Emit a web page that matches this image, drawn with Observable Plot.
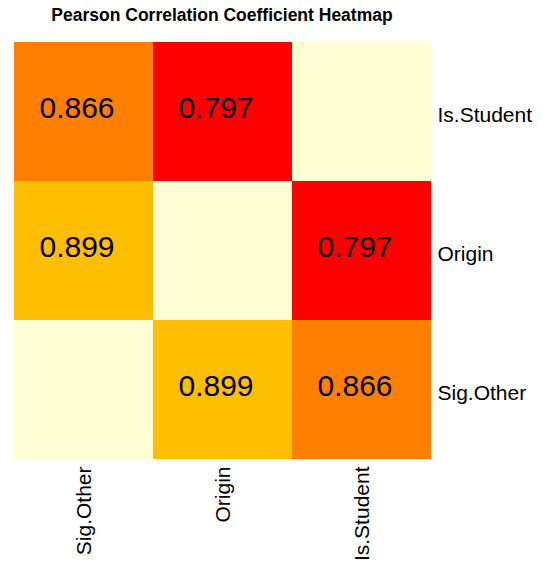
<!DOCTYPE html>
<html>
<head>
<meta charset="utf-8">
<script src="https://cdn.jsdelivr.net/npm/d3@7"></script>
<script src="https://cdn.jsdelivr.net/npm/@observablehq/plot@0.6"></script>
<style>
  body { margin: 0; background: #fff; font-family: "Liberation Sans", Arial, sans-serif; }
  #title { width: 444px; height: 30px; line-height: 31px; text-align: center; font-weight: bold; font-size: 17.5px; color: #000; white-space: nowrap; }
</style>
</head>
<body>
<div id="title">Pearson Correlation Coefficient Heatmap</div>
<div id="chart"></div>
<script>
const colVars = ["Sig.Other", "Origin", "Is.Student"];
const rowVars = ["Is.Student", "Origin", "Sig.Other"];
const values = [
  [0.866, 0.797, 1],
  [0.899, 1, 0.797],
  [1, 0.899, 0.866]
];
const colorLevels = [0.797, 0.866, 0.899, 1];
const colorRange = ["#FF0000", "#FF8000", "#FFBF00", "#FFFFD5"];

const cells = [];
rowVars.forEach((r, i) => colVars.forEach((c, j) => {
  const v = values[i][j];
  cells.push({row: r, col: c, value: v, label: v === 1 ? "" : v.toFixed(3)});
}));

const chart = Plot.plot({
  width: 543,
  height: 538,
  marginTop: 11,
  marginLeft: 13,
  marginRight: 112,
  marginBottom: 109,
  style: {fontFamily: "Liberation Sans, Arial, sans-serif", background: "#fff", color: "#000"},
  x: {domain: colVars, padding: 0, label: null},
  y: {domain: rowVars, padding: 0, label: null},
  color: {type: "ordinal", domain: colorLevels, range: colorRange},
  marks: [
    Plot.cell(cells, {x: "col", y: "row", fill: "value"}),
    Plot.text(cells, {x: "col", y: "row", text: "label", fontSize: 30, dx: -7, dy: -4, fill: "#000"}),
    Plot.axisY({anchor: "right", tickSize: 0, tickPadding: 6, fontSize: 21, label: null, dy: 3}),
    Plot.axisX({anchor: "bottom", tickSize: 0, tickPadding: 7, tickRotate: -90, fontSize: 21, label: null})
  ]
});
document.getElementById("chart").appendChild(chart);
</script>
</body>
</html>
